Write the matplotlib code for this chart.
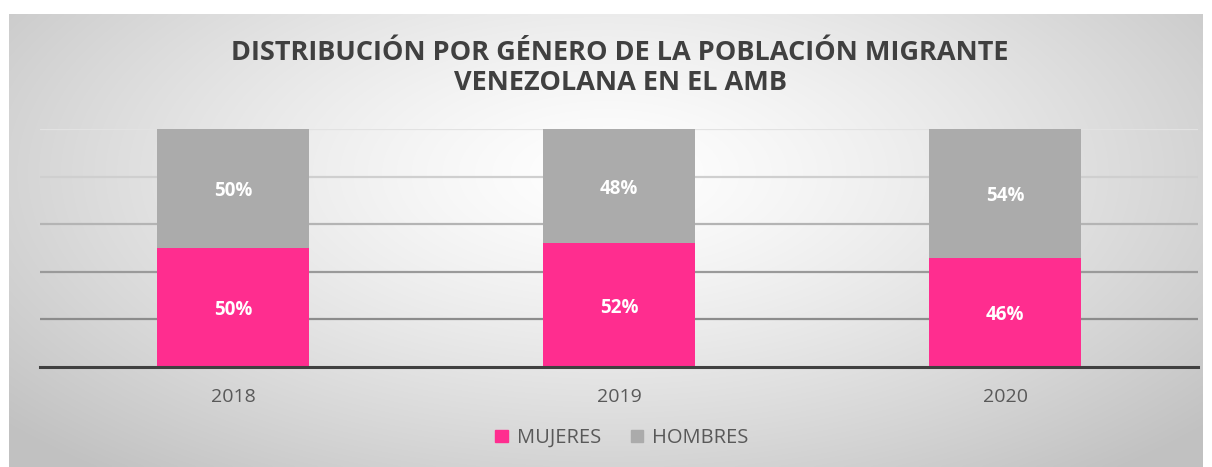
import matplotlib
matplotlib.use("Agg")
import matplotlib.pyplot as plt
import numpy as np
from matplotlib.patches import Patch

years = ["2018", "2019", "2020"]
mujeres = [0.50, 0.52, 0.46]
hombres = [0.50, 0.48, 0.54]
mujeres_lbl = ["50%", "52%", "46%"]
hombres_lbl = ["50%", "48%", "54%"]
title = "DISTRIBUCIÓN POR GÉNERO DE LA POBLACIÓN MIGRANTE\nVENEZOLANA EN EL AMB"

W, H = 1212, 467
fig = plt.figure(figsize=(W / 100, H / 100), dpi=100)
fig.patch.set_facecolor("white")

# background radial gradient panel
x0, x1, y0, y1 = 9, 1203, 14, 467
bg = fig.add_axes([x0 / W, 0, (x1 - x0) / W, (H - y0) / H])
yy, xx = np.mgrid[0:200, 0:500]
cx, cy = 250, 70
d = np.sqrt(((xx - cx) / 330) ** 2 + ((yy - cy) / 170) ** 2)
d = np.clip(d, 0, 1)
val = 1.0 - 0.24 * d ** 1.3
img = np.dstack([val, val, val])
bg.imshow(img, aspect="auto", extent=[0, 1, 0, 1], interpolation="bilinear")
bg.axis("off")

ax = fig.add_axes([40 / W, (H - 367) / H, (1198 - 40) / W, (367 - 129) / H])
ax.set_facecolor("none")
x = np.arange(len(years))
bw = 0.394
pink = "#ff2d8f"
gray = "#ababab"
ax.bar(x, mujeres, bw, color=pink, zorder=3)
ax.bar(x, hombres, bw, bottom=mujeres, color=gray, zorder=3)
off = -0.012
for i in range(len(years)):
    ax.text(x[i], mujeres[i] / 2 + off, mujeres_lbl[i], ha="center", va="center",
            color="white", fontsize=13.5, fontweight="bold", family="Open Sans", zorder=4)
    ax.text(x[i], mujeres[i] + hombres[i] / 2 + off, hombres_lbl[i], ha="center", va="center",
            color="white", fontsize=13.5, fontweight="bold", family="Open Sans", zorder=4)

ax.set_xlim(-0.5, len(years) - 0.5)
ax.set_ylim(0, 1)
ax.set_yticks([0.2, 0.4, 0.6, 0.8, 1.0])
ax.set_yticklabels([])
ax.tick_params(axis="y", length=0)
ax.tick_params(axis="x", length=0, pad=15, labelsize=14, labelcolor="#595959")
ax.set_xticks(x)
ax.set_xticklabels(years, family="Open Sans")
gcols = ["#8c8c8c", "#9a9a9a", "#b4b4b4", "#cfcfcf", "#e2e2e2"]
for yv, c in zip([0.2, 0.4, 0.6, 0.8, 1.0], gcols):
    ax.axhline(yv, color=c, lw=1.6, zorder=1)
for s in ["top", "right", "left"]:
    ax.spines[s].set_visible(False)
ax.spines["bottom"].set_color("#404040")
ax.spines["bottom"].set_linewidth(2.2)
ax.spines["bottom"].set_zorder(5)

fig.text(620 / W, 1 - 68.5 / H, title, ha="center", va="center", fontsize=19.5,
         fontweight="bold", color="#404040", family="Open Sans", linespacing=1.2)

handles = [Patch(color=pink, label="MUJERES"), Patch(color=gray, label="HOMBRES")]
fig.legend(handles=handles, loc="center", bbox_to_anchor=(622 / W, 1 - 438 / H), ncol=2,
           frameon=False, prop={"family": "Open Sans", "size": 14.5},
           labelcolor="#595959", handlelength=0.6, handleheight=0.6,
           handletextpad=0.45, columnspacing=1.5)

fig.savefig("out.png", dpi=100)
